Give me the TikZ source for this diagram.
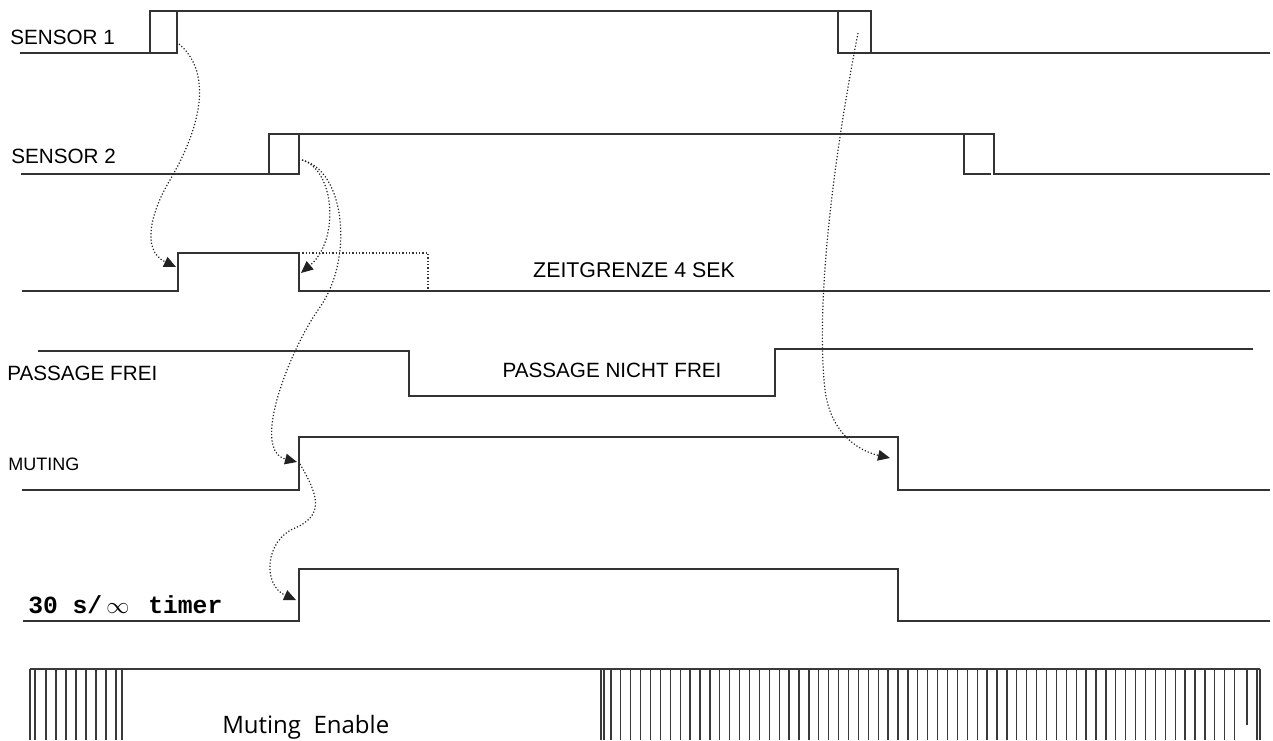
\documentclass[tikz,border=0pt]{standalone}
\usepackage{fontspec}
\setmainfont{Liberation Sans}
\setsansfont{Liberation Sans}
\setmonofont{Liberation Mono}
\newfontfamily\enablefont{Open Sans}
\usetikzlibrary{arrows.meta}
\definecolor{sigcol}{HTML}{333333}
\definecolor{linkcol}{HTML}{222222}
\definecolor{hatchcol}{HTML}{3A3A3A}

\begin{document}
\begin{tikzpicture}[
    x=0.75pt, y=-0.75pt,
    every node/.style={font=\sffamily},
    sig/.style={draw=sigcol, line width=1.1pt},
    window/.style={draw=sigcol, line width=0.9pt, dash pattern=on 0.9pt off 1.6pt},
    link/.style={draw=linkcol, line width=0.9pt, dash pattern=on 0.9pt off 1.5pt,
        -{Triangle[length=9pt, width=8pt]}},
    hatch/.style={draw=hatchcol, line width=0.95pt},
    lbl/.style={anchor=base west, inner sep=0pt,
        font=\sffamily\fontsize{15.5}{18}\selectfont},
    midlbl/.style={anchor=base, inner sep=0pt,
        font=\sffamily\fontsize{15.5}{18}\selectfont},
]
\useasboundingbox (0,0) rectangle (1273,740);

% === Signal labels ===
\node[lbl] (s1lbl) at (10,44) {SENSOR 1};
\node[lbl] (s2lbl) at (11,163) {SENSOR 2};
\node[midlbl, font=\sffamily\fontsize{16}{18}\selectfont] (zeitlbl) at (634,277) {ZEITGRENZE 4 SEK};
\node[lbl] (freilbl) at (7,380) {PASSAGE FREI};
\node[midlbl] (nichtlbl) at (612,377) {PASSAGE NICHT FREI};
\node[lbl, font=\sffamily\fontsize{13.5}{16}\selectfont] (mutlbl) at (8,470) {MUTING};
\node[lbl, font=\ttfamily\bfseries\fontsize{18.5}{20}\selectfont] (timlbl) at (28,613)
    {30 s/\,$\infty$\, timer};
\node[lbl, font=\enablefont\fontsize{18}{20}\selectfont] (enablbl) at (222,733)
    {Muting~ Enable};

% === Sensor 1 ===
\draw[sig] (20,53) -- (177,53) -- (177,11);
\draw[sig] (150,53) -- (150,11) -- (871,11) -- (871,53) -- (1270,53);
\draw[sig] (838,11) -- (838,53) -- (871,53);

% === Sensor 2 ===
\draw[sig] (21,174) -- (299,174) -- (299,134);
\draw[sig] (269,174) -- (269,134) -- (994,134) -- (994,174) -- (1270,174);
\draw[sig] (964,134) -- (964,174) -- (991,174);

% === Time window (4 s) ===
\draw[sig] (22,291) -- (178,291) -- (178,253) -- (299,253) -- (299,291) -- (1270,291);
\draw[window] (299,253) -- (428,253) -- (428,291);

% === Passage ===
\draw[sig] (38,351) -- (409,351) -- (409,396) -- (775,396) -- (775,349) -- (1253,349);

% === Muting ===
\draw[sig] (22,490) -- (299,490) -- (299,437) -- (898,437) -- (898,490) -- (1270,490);

% === 30 s timer ===
\draw[sig] (23,621) -- (299,621) -- (299,569) -- (898,569) -- (898,621) -- (1270,621);

% === Muting enable bar ===
\draw[hatch] (30,669) -- (1260,669);
\foreach \x in {30,35,122}
    \draw[hatch] (\x,669) -- (\x,740);
\foreach \x in {46,56,...,116}
    \draw[hatch] (\x,669) -- (\x,740);
\foreach \i in {0,...,64}
    \draw[hatch] ({601+\i*9.9},669) -- ++(0,71);
\draw[hatch] (604,669) -- (604,740);
\draw[hatch] (1247,669) -- (1247,725);
\draw[hatch] (1257,669) -- (1257,740);
\draw[hatch] (1260,669) -- (1260,740);

% === Edge points ===
\coordinate (s1off) at (179,44);
\coordinate (winon) at (176,267);
\coordinate (s2off) at (302,160);
\coordinate (winoff) at (301,273);
\coordinate (muton) at (297,462);
\coordinate (mutstart) at (300,464);
\coordinate (timon) at (296,600);
\coordinate (s1on) at (858,33);
\coordinate (mutoff) at (890,458);

% === Causal links ===
\draw[link] (s1off) .. controls (210,70) and (205,120) .. (170,180)
    .. controls (152,210) and (140,250) .. (winon);
\draw[link] (s2off) .. controls (335,170) and (340,240) .. (winoff);
\draw[link] (s2off) .. controls (345,170) and (355,260) .. (318,310)
    .. controls (290,350) and (250,450) .. (muton);
\draw[link] (mutstart) .. controls (318,495) and (325,515) .. (295,528)
    .. controls (265,540) and (262,585) .. (timon);
\draw[link] (s1on) .. controls (835,150) and (815,300) .. (825,390)
    .. controls (830,430) and (855,450) .. (mutoff);

\end{tikzpicture}
\end{document}
